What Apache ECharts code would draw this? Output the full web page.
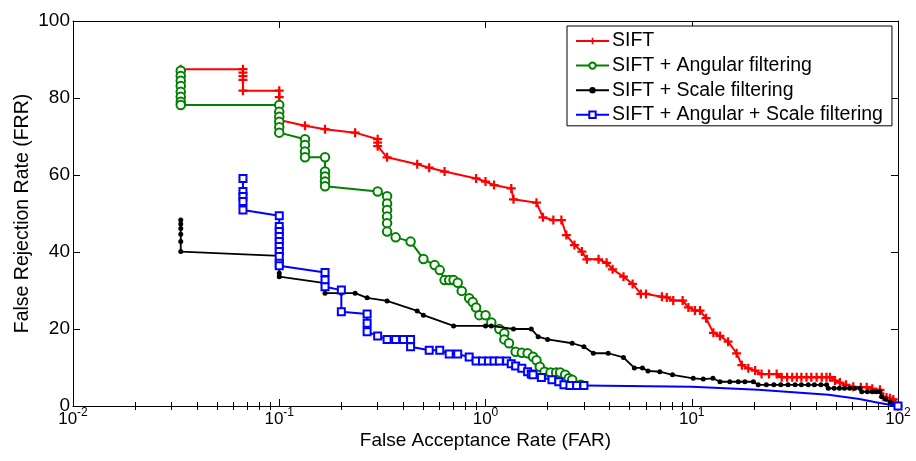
<!DOCTYPE html>
<html>
<head>
<meta charset="utf-8">
<script src="https://cdn.jsdelivr.net/npm/echarts@6/dist/echarts.min.js"></script>
<style>
html,body{margin:0;padding:0;background:#fff;}
#chart{width:916px;height:461px;}
</style>
</head>
<body>
<div id="chart"></div>
<script>
// ---- data (FAR in %, FRR in %) ----
const seriesNames = ['SIFT', 'SIFT + Angular filtering', 'SIFT + Scale filtering', 'SIFT + Angular + Scale filtering'];
const xTickExponents = [-2, -1, 0, 1, 2];
const yTicks = [0, 20, 40, 60, 80, 100];

const siftPoints = [
[0.0333,87.5],[0.0667,87.5],[0.0667,86.6],[0.0667,85.7],[0.0667,84.7],[0.0667,81.9],[0.1,81.9],[0.1,80.2],[0.1,78.2],[0.1,76.0],[0.1,74.3],[0.1333,72.8],[0.1667,71.9],[0.2333,71.0],[0.3,69.3],[0.3,68.4],[0.3,67.5],[0.3333,64.6],[0.4667,62.8],[0.5333,61.9],[0.6333,60.9],[0.9,59.1],[1.0,58.3],[1.1,57.4],[1.3333,56.5],[1.3667,53.7],[1.7667,52.8],[1.9,49.0],[2.1333,48.3],[2.3333,48.3],[2.4667,44.4],[2.7,41.8],[2.9333,40.1],[3.1,38.1],[3.5333,38.1],[3.8667,37.2],[4.1333,35.5],[4.6667,33.6],[5.1667,31.7],[5.6667,29.1],[6.0,29.1],[7.1667,28.4],[7.5667,28.2],[8.1333,27.4],[9.0333,27.4],[9.6333,25.6],[10.3667,24.8],[10.9667,24.8],[11.7333,22.8],[12.7333,19.0],[13.7,18.2],[15.0,16.7],[16.5,13.7],[17.5,10.6],[18.8,9.8],[20.3,9.2],[21.8,8.3],[23.7,8.3],[25.8,8.3],[27.3,7.5],[29,7.5],[30.7,7.5],[32.3,7.5],[34,7.5],[36,7.5],[38,7.5],[40.3,7.5],[42.7,7.5],[45,7.5],[46.8,7.5],[49.5,6.6],[52.3,6.1],[56,5.5],[60.7,5.0],[66,4.9],[70.5,4.9],[75,4.5],[81.8,4.2],[84.9,2.4],[88,2.2],[91.5,2.0],[94.9,1.7],[97,0.8],[100,0]
];

const angularPoints = [
[0.0333,87.1],[0.0333,85.7],[0.0333,84.5],[0.0333,83.1],[0.0333,81.6],[0.0333,80.3],[0.0333,79.0],[0.0333,78.2],[0.1,78.2],[0.1,76.4],[0.1,75.1],[0.1,73.8],[0.1,72.4],[0.1,71.0],[0.1333,69.3],[0.1333,67.8],[0.1333,66.1],[0.1333,64.6],[0.1667,64.6],[0.1667,60.9],[0.1667,59.6],[0.1667,58.3],[0.1667,57.1],[0.3,55.7],[0.3333,54.5],[0.3333,52.6],[0.3333,50.9],[0.3333,49.2],[0.3333,47.5],[0.3333,45.3],[0.3667,43.8],[0.4333,42.7],[0.5,38.2],[0.5667,36.6],[0.6,35.3],[0.6333,32.7],[0.6667,32.7],[0.7,32.7],[0.7333,32.0],[0.7667,29.9],[0.8333,28.0],[0.8667,27.0],[0.9,25.6],[0.9333,23.6],[1.0,23.6],[1.0667,21.7],[1.1667,20.0],[1.2333,18.9],[1.2333,17.3],[1.3,16.3],[1.4,14.1],[1.5,13.8],[1.6,13.7],[1.7,12.8],[1.7667,11.9],[1.8333,10.2],[1.9333,8.9],[2.0667,8.7],[2.2,8.7],[2.3,8.7],[2.4333,8.1],[2.5333,7.2],[2.6333,6.8],[2.9,5.5]
];

const scalePoints = [
[0.0333,48.3],[0.0333,47.3],[0.0333,46.1],[0.0333,44.6],[0.0333,42.7],[0.0333,40.1],[0.1,39.0],[0.1,34.5],[0.1,33.6],[0.1667,31.9],[0.1667,29.3],[0.2,29.3],[0.2333,29.3],[0.2667,28.1],[0.3333,27.3],[0.4667,24.7],[0.5,23.6],[0.7,20.8],[1.0,20.8],[1.0667,20.8],[1.3667,20.0],[1.6667,20.0],[1.8,18.0],[2.0,17.3],[2.6333,16.3],[3.0,15.4],[3.3333,13.7],[3.9333,13.7],[4.6667,12.6],[5.2667,9.9],[5.7667,9.9],[6.1333,9.1],[7.0,8.9],[8.0667,8.1],[10.1667,7.2],[11.3667,7.0],[12.6667,7.2],[13.7,6.3],[15.3,6.3],[16.8,6.3],[18.1,6.3],[19.9,6.3],[21.0,5.5],[23,5.5],[25,5.5],[27,5.5],[29.3,5.5],[31.7,5.5],[34,5.5],[36.7,5.5],[39.3,5.5],[42.3,5.5],[45.1,5.5],[45.9,4.6],[49,4.6],[52,4.6],[55,4.6],[58.3,4.6],[61.7,4.6],[65.4,4.6],[66.7,3.7],[71,3.7],[75,3.7],[78.3,3.7],[81.8,3.7],[83.4,2.4],[87,1.8],[91.5,1.1],[95,0.5],[100,0]
];

const angularScalePoints = [
[0.0667,59.1],[0.0667,55.7],[0.0667,54.4],[0.0667,53.1],[0.0667,50.9],[0.1,49.4],[0.1,46.6],[0.1,45.3],[0.1,44.0],[0.1,42.7],[0.1,41.4],[0.1,40.1],[0.1,38.8],[0.1,37.1],[0.1,36.4],[0.1667,34.7],[0.1667,32.7],[0.1667,31.0],[0.2,30.1],[0.2,24.5],[0.2667,23.9],[0.2667,21.5],[0.2667,19.3],[0.3,18.2],[0.3333,17.3],[0.3667,17.3],[0.4,17.3],[0.4333,17.3],[0.4333,15.4],[0.5333,14.5],[0.6,14.5],[0.6667,13.5],[0.7333,13.5],[0.8333,12.7],[0.9,11.7],[0.9667,11.7],[1.0333,11.7],[1.1,11.7],[1.1667,11.7],[1.2667,11.7],[1.3333,11.0],[1.4,10.4],[1.5,9.8],[1.6,8.9],[1.6667,8.3],[1.7,8.1],[1.8667,7.4],[2.1,6.8],[2.2667,6.3],[2.4,5.5],[2.5667,5.3],[2.7667,5.3],[3.0,5.3]
];
// continuation of the blue curve (drawn without markers except the end point)
const angularScaleTail = [[10,5.0],[21,4.2],[46,2.9],[65,1.8],[78,1.0],[91,0.3],[100,0]];

// ---- build ----
const FONT = 'Liberation Sans, Arial, Helvetica, sans-serif';
const minorTicks = [];
for (let e = -2; e < 2; e++) {
  for (let m = 2; m <= 9; m++) minorTicks.push(+(m * Math.pow(10, e)).toPrecision(3));
}
const majorTicks = xTickExponents.map(e => Math.pow(10, e));

const blueData = angularScalePoints.map(p => p.slice()).concat(
  angularScaleTail.map((p, i) => i === angularScaleTail.length - 1 ? {value: p} : {value: p, symbol: 'none'})
);

const plusPath = 'path://M3,0H5V3H8V5H5V8H3V5H0V3H3Z';

const baseX = {
  type: 'log', logBase: 10, min: 0.01, max: 100, gridIndex: 0,
  splitLine: {show: false}
};

const chart = echarts.init(document.getElementById('chart'), null, {renderer: 'canvas'});
chart.setOption({
  animation: false,
  backgroundColor: '#ffffff',
  textStyle: {fontFamily: FONT},
  grid: {left: 73, right: 18, top: 21, bottom: 55, containLabel: false},
  legend: {
    orient: 'vertical', left: 567, top: 26,
    padding: [5, 9, 1, 8],
    itemGap: 4.6, itemWidth: 33, itemHeight: 8,
    borderColor: '#000', borderWidth: 1, backgroundColor: '#fff',
    textStyle: {fontFamily: FONT, fontSize: 19.5, color: '#000', lineHeight: 19, padding: [0, 0, 0, -2]},
    data: seriesNames
  },
  xAxis: [
    Object.assign({}, baseX, {
      position: 'bottom',
      name: 'False Acceptance Rate (FAR)', nameLocation: 'middle', nameGap: 25, nameMoveOverlap: false,
      nameTextStyle: {fontFamily: FONT, fontSize: 19, color: '#000'},
      axisLine: {show: true, onZero: false, lineStyle: {color: '#000', width: 1}},
      axisTick: {show: true, inside: true, length: 7, lineStyle: {color: '#000'}, customValues: majorTicks},
      axisLabel: {
        show: true, margin: 1, color: '#000', customValues: majorTicks,
        formatter: v => '{b|10}{s|' + Math.round(Math.log10(v)) + '}',
        rich: {
          b: {fontFamily: FONT, fontSize: 17, color: '#000', lineHeight: 17, padding: [8, 0, 0, 0]},
          s: {fontFamily: FONT, fontSize: 12, color: '#000', lineHeight: 12, verticalAlign: 'top'}
        }
      }
    }),
    Object.assign({}, baseX, {
      position: 'bottom',
      axisLine: {show: false},
      axisTick: {show: true, inside: true, length: 4, lineStyle: {color: '#000'}, customValues: minorTicks},
      axisLabel: {show: false}
    }),
    Object.assign({}, baseX, {
      position: 'top',
      axisLine: {show: true, onZero: false, lineStyle: {color: '#000', width: 1}},
      axisTick: {show: true, inside: true, length: 7, lineStyle: {color: '#000'}, customValues: majorTicks},
      axisLabel: {show: false}
    }),
    Object.assign({}, baseX, {
      position: 'top',
      axisLine: {show: false},
      axisTick: {show: true, inside: true, length: 4, lineStyle: {color: '#000'}, customValues: minorTicks},
      axisLabel: {show: false}
    })
  ],
  yAxis: [
    {
      type: 'value', min: yTicks[0], max: yTicks[yTicks.length - 1], interval: 20, position: 'left',
      name: 'False Rejection Rate (FRR)', nameLocation: 'middle', nameGap: 40, nameMoveOverlap: false,
      nameTextStyle: {fontFamily: FONT, fontSize: 19.5, color: '#000'},
      axisLine: {show: true, onZero: false, lineStyle: {color: '#000', width: 1}},
      axisTick: {show: true, inside: true, length: 7, lineStyle: {color: '#000'}},
      axisLabel: {show: true, margin: 3, fontFamily: FONT, fontSize: 19, color: '#000'},
      splitLine: {show: false}
    },
    {
      type: 'value', min: yTicks[0], max: yTicks[yTicks.length - 1], interval: 20, position: 'right',
      axisLine: {show: true, onZero: false, lineStyle: {color: '#000', width: 1}},
      axisTick: {show: true, inside: true, length: 7, lineStyle: {color: '#000'}},
      axisLabel: {show: false},
      splitLine: {show: false}
    }
  ],
  series: [
    {
      name: seriesNames[0], type: 'line', xAxisIndex: 0, yAxisIndex: 0,
      data: siftPoints, symbol: plusPath, symbolSize: 9,
      lineStyle: {color: '#ff0000', width: 2}, itemStyle: {color: '#ff0000'},
      color: '#ff0000', z: 2
    },
    {
      name: seriesNames[1], type: 'line', xAxisIndex: 0, yAxisIndex: 0,
      data: angularPoints, symbol: 'emptyCircle', symbolSize: 8.5,
      lineStyle: {color: '#008000', width: 2}, itemStyle: {color: '#008000', borderWidth: 1.6},
      color: '#008000', z: 3
    },
    {
      name: seriesNames[2], type: 'line', xAxisIndex: 0, yAxisIndex: 0,
      data: scalePoints, symbol: 'circle', symbolSize: 5,
      lineStyle: {color: '#000000', width: 1.8}, itemStyle: {color: '#000000'},
      color: '#000000', z: 4
    },
    {
      name: seriesNames[3], type: 'line', xAxisIndex: 0, yAxisIndex: 0,
      data: blueData, symbol: 'emptyRect', symbolSize: 7,
      lineStyle: {color: '#0000ff', width: 2}, itemStyle: {color: '#0000ff', borderWidth: 1.4},
      color: '#0000ff', z: 5
    }
  ]
});
</script>
</body>
</html>
